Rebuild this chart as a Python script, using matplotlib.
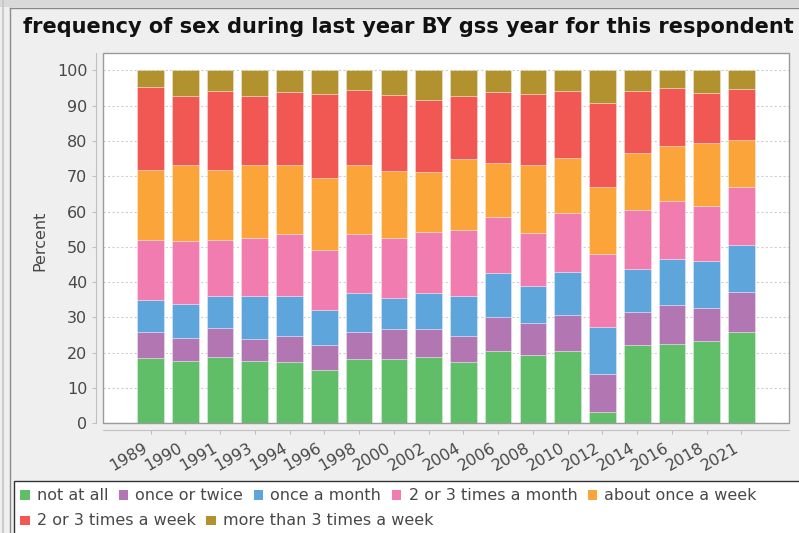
import numpy as np
import matplotlib
matplotlib.use('Agg')
import matplotlib.pyplot as plt
from matplotlib.patches import Rectangle
from matplotlib.lines import Line2D

years = ['1989', '1990', '1991', '1993', '1994', '1996', '1998', '2000', '2002',
         '2004', '2006', '2008', '2010', '2012', '2014', '2016', '2018', '2021']

categories = ['not at all', 'once or twice', 'once a month', '2 or 3 times a month',
              'about once a week', '2 or 3 times a week', 'more than 3 times a week']

not_at_all = [18.6, 17.6, 18.7, 17.6, 17.3, 15.0, 18.2, 18.1, 18.7, 17.4, 20.4, 19.4, 20.6, 3.1, 22.3, 22.4, 23.3, 25.8]
once_twice = [7.3, 6.7, 8.4, 6.3, 7.4, 7.1, 7.6, 8.6, 8.0, 7.2, 9.7, 9.0, 10.1, 10.8, 9.3, 11.0, 9.4, 11.5]
once_month = [9.0, 9.5, 9.0, 12.2, 11.4, 9.9, 11.2, 8.9, 10.1, 11.4, 12.5, 10.4, 12.2, 13.4, 12.1, 13.1, 13.3, 13.2]
two_three_month = [16.9, 17.8, 15.7, 16.4, 17.5, 17.1, 16.6, 16.8, 17.4, 18.7, 15.9, 15.1, 16.7, 20.7, 16.8, 16.4, 15.6, 16.4]
once_week = [20.0, 21.5, 19.9, 20.6, 19.5, 20.5, 19.5, 19.0, 17.0, 20.1, 15.2, 19.3, 15.6, 18.9, 16.2, 15.7, 17.8, 13.5]
two_three_week = [23.4, 19.5, 22.4, 19.6, 20.8, 23.6, 21.3, 21.6, 20.5, 18.0, 20.2, 20.0, 19.0, 23.8, 17.5, 16.3, 14.1, 14.2]
more_three_week = [4.8, 7.4, 5.9, 7.3, 6.1, 6.8, 5.6, 7.0, 8.3, 7.2, 6.1, 6.8, 5.8, 9.3, 5.8, 5.1, 6.5, 5.4]

series = [not_at_all, once_twice, once_month, two_three_month,
          once_week, two_three_week, more_three_week]
colors = ['#60bd68', '#b276b2', '#5da5da', '#f17cb0', '#faa43a', '#f15854', '#b2912f']

W, H = 799, 533
fig = plt.figure(figsize=(W / 100, H / 100), dpi=100, facecolor='#efefef')


def fx(x):
    return x / W


def fy(y):
    return 1 - y / H


# outer frame
fig.patches.append(Rectangle((0, fy(7)), 1, 7 / H, transform=fig.transFigure,
                             facecolor='#d9d9d9', edgecolor='none'))
fig.lines.append(Line2D([fx(2.5), fx(2.5)], [0, 1], transform=fig.transFigure,
                        color='#c4c4c4', lw=1.2))
fig.lines.append(Line2D([fx(9.5), fx(9.5)], [0, fy(7.5)], transform=fig.transFigure,
                        color='#8a8a8a', lw=1))
fig.lines.append(Line2D([fx(9.5), 1], [fy(7.5), fy(7.5)], transform=fig.transFigure,
                        color='#8a8a8a', lw=1))

ax = fig.add_axes([fx(102.7), fy(423.3), (789.3 - 102.7) / W, (423.3 - 52.7) / H])
ax.set_facecolor('white')

x = np.arange(len(years))
bottom = np.zeros(len(years))
for vals, col, lab in zip(series, colors, categories):
    ax.bar(x, vals, width=0.765, bottom=bottom, color=col, label=lab,
           edgecolor=(1, 1, 1, 0.45), linewidth=0.5, zorder=2)
    bottom += np.array(vals)

ax.set_xlim(-1.375, len(years) - 1 + 1.375)
ax.set_ylim(0, 105)
ax.set_yticks(np.arange(0, 101, 10))
ax.set_xticks(x)
ax.set_xticklabels(years)
ax.yaxis.grid(True, color='#cfcfcf', linestyle=(0, (2, 2)), linewidth=0.8, zorder=0)
ax.set_axisbelow(True)

for s in ['top', 'right']:
    ax.spines[s].set_visible(False)
for s in ['left', 'bottom']:
    ax.spines[s].set_position(('outward', 5))
    ax.spines[s].set_color('#c0c0c0')
ax.tick_params(axis='both', colors='#c0c0c0', length=3, width=0.8, labelsize=11.5,
               labelcolor='#484848')
ax.tick_params(axis='y', pad=3)
ax.tick_params(axis='x', pad=4, labelrotation=30)
plt.setp(ax.get_xticklabels(), ha='right')

# plot outline
ax.add_patch(Rectangle((0, 0), 1, 1, transform=ax.transAxes, fill=False,
                       edgecolor='#9a9a9a', lw=1, zorder=5, clip_on=False))

fig.text(fx(408), fy(27), 'frequency of sex during last year BY gss year for this respondent',
         ha='center', va='center', fontsize=15, fontweight='bold', color='#111111')
fig.text(fx(40), fy(241), 'Percent', rotation=90, ha='center', va='center',
         fontsize=11.5, color='#484848')

# legend box with flow layout
fig.patches.append(Rectangle((fx(14.5), -0.05), 1, fy(481) + 0.05, transform=fig.transFigure,
                             facecolor='white', edgecolor='#333333', lw=1))
renderer = fig.canvas.get_renderer()
lx, ly = 20, 495
for lab, col in zip(categories, colors):
    t = fig.text(0, 0, lab, fontsize=11.5, color='#484848', va='center')
    tw = t.get_window_extent(renderer).width
    if lx + 16.7 + tw > 795:
        lx, ly = 20, ly + 25.5
    t.set_position((fx(lx + 16.7), fy(ly)))
    fig.patches.append(Rectangle((fx(lx), fy(ly + 4.7)), 9.5 / W, 9.5 / H,
                                 transform=fig.transFigure, facecolor=col, edgecolor='none'))
    lx = lx + 16.7 + tw + 10.5

fig.savefig('out.png', dpi=100, facecolor=fig.get_facecolor())
